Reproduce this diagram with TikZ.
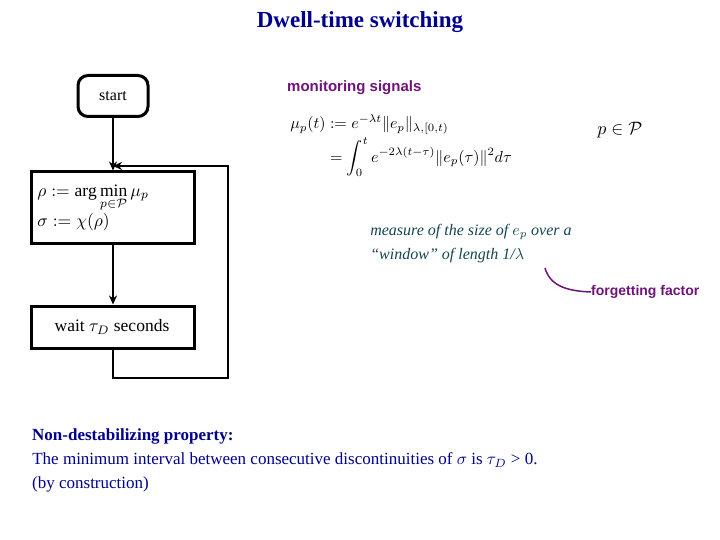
\documentclass[tikz,border=0pt]{standalone}
\usepackage{amsmath,amssymb}
\usepackage{fontspec}
\setmainfont{Liberation Serif}
\newfontfamily\arialf{Liberation Sans}
\usetikzlibrary{arrows.meta}
\definecolor{navy}{RGB}{0,0,140}
\definecolor{purp}{RGB}{110,20,120}
\definecolor{teal2}{RGB}{20,70,80}
\tikzset{
  blk/.style={draw, line width=3pt, inner sep=0pt, minimum width=163pt, align=left},
  conn/.style={line width=2.6pt, -{Stealth[length=9pt,width=8pt]}},
  lbl/.style={anchor=west, inner sep=0pt, font=\fontsize{17}{20}\selectfont}
}
\begin{document}
\begin{tikzpicture}[x=1pt,y=-1pt]
\useasboundingbox (0,0) rectangle (720,540);
\node[navy, font=\fontsize{23}{26}\selectfont\bfseries] (title) at (360,22) {Dwell-time switching};
\node[draw, line width=3pt, rounded corners=10pt, minimum width=70pt, minimum height=41pt, font=\fontsize{16}{18}\selectfont] (start) at (113,96) {start};
\node[blk, minimum height=71pt] (sel) at (113,207.5) {};
\node[anchor=west, inner sep=0pt, scale=1.75] (selt) at (37,207) {$\begin{aligned}&\rho := \arg\min_{p\in\mathcal P}\mu_p\\[-4pt] &\sigma := \chi(\rho)\end{aligned}$};
\node[blk, minimum height=42pt] (wait) at (113,327) {};
\node[inner sep=0pt, scale=1.75] (waitt) at (112,327) {wait $\tau_D$ seconds};
\coordinate (c1) at (113,378);
\coordinate (c2) at (228,378);
\coordinate (c3) at (228,166);
\coordinate (c4) at (113,166);
\draw[conn] (start.south) -- (sel.north);
\draw[conn] (sel.south) -- (wait.north);
\draw[line width=2.6pt] (wait.south) -- (c1) -- (c2) -- (c3) -- (116,166);
\draw[conn] (c3) -- (c4);
\node[purp, anchor=west, inner sep=0pt, font=\arialf\bfseries\fontsize{15}{17}\selectfont] (mon) at (287,88) {monitoring signals};
\node[anchor=north west, inner sep=0pt, scale=1.6] (eq) at (290,114) {$\begin{aligned}\mu_p(t) &:= e^{-\lambda t}\|e_p\|_{\lambda,[0,t)}\\[-2pt] &= \int_0^t e^{-2\lambda(t-\tau)}\|e_p(\tau)\|^2 d\tau\end{aligned}$};
\node[anchor=west, inner sep=0pt, scale=1.8] (pin) at (597,130) {$p\in\mathcal P$};
\node[teal2, anchor=west, inner sep=0pt, scale=1.6, font=\itshape] (m1) at (370,232) {measure of the size of $e_p$ over a};
\node[teal2, anchor=west, inner sep=0pt, scale=1.6, font=\itshape] (m2) at (370,256) {``window'' of length 1/$\lambda$};
\node[purp, anchor=west, inner sep=0pt, font=\arialf\bfseries\fontsize{14}{16}\selectfont] (ff) at (591,292) {forgetting factor};
\draw[purp, line width=1.5pt] (545,268) .. controls (550,285) and (565,291) .. (ff.west);
\node[navy, lbl, font=\fontsize{17}{20}\selectfont\bfseries] (np) at (32,436) {Non-destabilizing property:};
\node[navy, anchor=west, inner sep=0pt, scale=1.7] (l2) at (32,460) {The minimum interval between consecutive discontinuities of $\sigma$ is $\tau_D$ > 0.};
\node[navy, lbl] (l3) at (32,484) {(by construction)};
\end{tikzpicture}
\end{document}
